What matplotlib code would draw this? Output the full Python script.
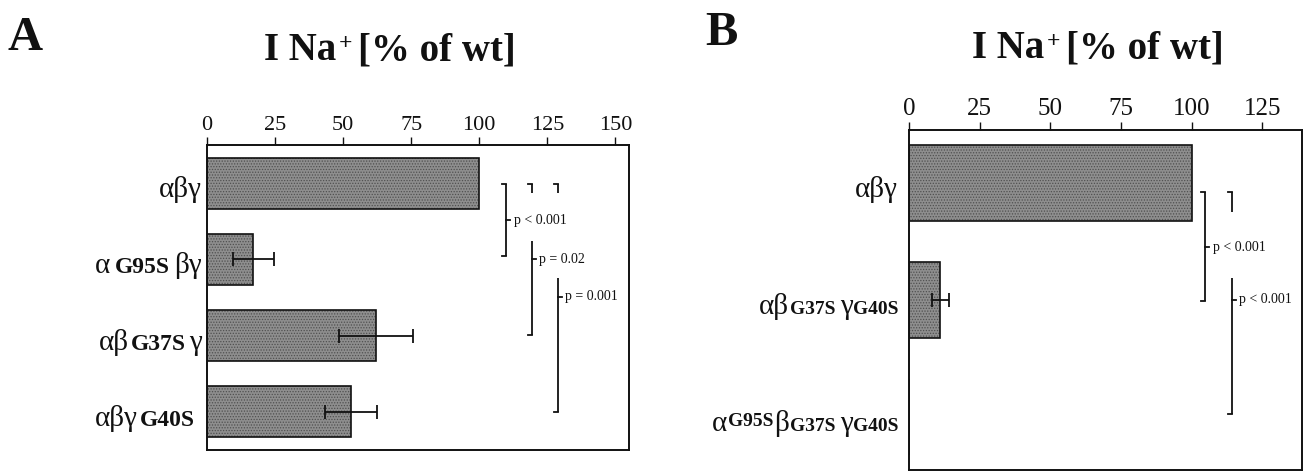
import matplotlib
matplotlib.use('Agg')
import matplotlib.pyplot as plt
from matplotlib.transforms import blended_transform_factory, ScaledTranslation

# ---------------- data ----------------
A_values = [100, 17, 62, 53]
A_errors = [0, 7.5, 13.5, 9.5]
A_ticks = [0, 25, 50, 75, 100, 125, 150]
A_labels = [
    [('αβγ', 'r', 0, 0)],
    [('α', 'r', 0, 4), ('G95S', 'b', 0, 5), ('βγ', 'r', 0, 0)],
    [('αβ', 'r', 0, 2), ('G37S', 'b', 0, 3), ('γ', 'r', 0, 0)],
    [('αβγ', 'r', 0, 2), ('G40S', 'b', 0, 7)],
]
# brackets: x, y0, y1, tick-y (or None), label, top serif, bottom serif
A_brackets = [
    (110.0, 0.01, 0.96, 0.49, 'p < 0.001', True, True),
    (119.4, 0.76, 1.99, 1.00, 'p = 0.02', False, True),
    (128.9, 1.24, 3.00, 1.49, 'p = 0.001', False, True),
    (119.4, 0.01, 0.13, None, '', True, False),
    (128.9, 0.01, 0.13, None, '', True, False),
]

B_values = [100, 11, 0]
B_errors = [0, 3, 0]
B_ticks = [0, 25, 50, 75, 100, 125]
B_labels = [
    [('αβγ', 'r', 0, 0)],
    [('αβ', 'r', 0, 1), ('G37S', 's', 0, 4), ('γ', 'r', 0, 0), ('G40S', 's', 0, 0)],
    [('α', 'r', 0, 1), ('G95S', 's', 5, 1), ('β', 'r', 0, 1), ('G37S', 's', 0, 4),
     ('γ', 'r', 0, 0), ('G40S', 's', 0, 0)],
]
B_brackets = [
    (104.8, 0.08, 1.01, 0.55, 'p < 0.001', True, True),
    (114.3, 0.81, 1.97, 1.00, 'p < 0.001', False, True),
    (114.3, 0.08, 0.25, None, '', True, False),
]

TITLE = [('I Na', 'B', 0, 2), ('+', 'S', 11, 6), ('[% of wt]', 'B', 0, 0)]

# ---------------- style ----------------
W, H, DPI = 1308, 473, 100
SERIF = 'Liberation Serif'
plt.rcParams['font.family'] = [SERIF, 'DejaVu Serif']
plt.rcParams['hatch.linewidth'] = 0.6
BAR = '#8e8e8e'
DOTS = '#505050'
INK = '#111111'
STYLE = {'r': (21, 'normal'), 'b': (17, 'bold'), 's': (14, 'bold'),
         'B': (28, 'bold'), 'S': (17, 'bold')}

fig = plt.figure(figsize=(W / DPI, H / DPI), dpi=DPI)
renderer = fig.canvas.get_renderer()


def draw_pieces(base_tr, x, y, pieces, align, dx_px=0, dy_px=0):
    texts, widths = [], []
    for s, st, rise, gap in pieces:
        size, weight = STYLE[st]
        t = fig.text(x, y, s, transform=base_tr, fontsize=size, fontweight=weight,
                     ha='left', va='baseline', color=INK, family=[SERIF, 'DejaVu Serif'])
        w = t.get_window_extent(renderer).width
        texts.append((t, rise, gap))
        widths.append(w + gap)
    total = sum(widths) - pieces[-1][3]
    if align == 'right':
        start = -sum(widths)
    elif align == 'center':
        start = -total / 2
    else:
        start = 0
    cur = start
    for (t, rise, gap), w in zip(texts, widths):
        t.set_transform(base_tr + ScaledTranslation((cur + dx_px) / DPI,
                                                    (rise + dy_px) / DPI,
                                                    fig.dpi_scale_trans))
        cur += w


def panel(ax, values, errors, ticks, labels, brackets, xmax, ylim, barh, tick_fs,
          label_dx):
    n = len(values)
    ax.barh(range(n), values, height=barh, color=BAR, edgecolor=DOTS, linewidth=0,
            hatch='......', zorder=2)
    ax.barh(range(n), values, height=barh, fill=False, edgecolor=INK, linewidth=1.2,
            zorder=2.5)
    for i in range(n):
        if errors[i] > 0:
            ax.errorbar(values[i], i, xerr=errors[i], fmt='none', ecolor=INK,
                        elinewidth=1.3, capsize=5, capthick=1.3, zorder=3)
    ax.set_xlim(0, xmax)
    ax.set_ylim(*ylim)
    ax.xaxis.tick_top()
    ax.set_xticks(ticks)
    ax.set_xticklabels([str(t) for t in ticks])
    ax.tick_params(axis='x', direction='out', length=6, width=1, labelsize=tick_fs,
                   pad=1, colors=INK)
    ax.set_yticks([])
    for sp in ax.spines.values():
        sp.set_linewidth(1.4)
        sp.set_color(INK)
    # category labels
    tr = blended_transform_factory(ax.transAxes, ax.transData)
    for i, pcs in enumerate(labels):
        draw_pieces(tr, 0, i, pcs, 'right', dx_px=label_dx, dy_px=-14)
    # significance brackets
    bb = ax.get_position()
    px_per_unit = bb.width * W / xmax
    serif = 4 / px_per_unit
    for x, y0, y1, ty, lab, top, bot in brackets:
        ax.plot([x, x], [y0, y1], color=INK, lw=1.3, clip_on=False,
                solid_capstyle='butt')
        if top:
            ax.plot([x - serif, x], [y0, y0], color=INK, lw=1.3, clip_on=False)
        if bot:
            ax.plot([x - serif, x], [y1, y1], color=INK, lw=1.3, clip_on=False)
        if ty is not None:
            ax.plot([x, x + serif], [ty, ty], color=INK, lw=1.3, clip_on=False)
            ax.text(x + serif * 1.8, ty, lab, fontsize=10, ha='left', va='center',
                    color=INK)


axA = fig.add_axes([207 / W, 1 - 450 / H, 422 / W, 305 / H])
panel(axA, A_values, A_errors, A_ticks, A_labels, A_brackets, 155, (3.5, -0.5),
      0.67, 16, -5)

axB = fig.add_axes([909 / W, 1 - 470 / H, 393 / W, 340 / H])
panel(axB, B_values, B_errors, B_ticks, B_labels, B_brackets, 139, (2.45, -0.45),
      0.65, 18, -11)

# panel letters and titles
ftr = fig.transFigure
fig.text(8 / W, 1 - 50 / H, 'A', fontsize=35, fontweight='bold', color=INK,
         ha='left', va='baseline')
fig.text(705 / W, 1 - 45 / H, 'B', fontsize=35, fontweight='bold', color=INK,
         ha='left', va='baseline')
draw_pieces(ftr, 390 / W, 1 - 60 / H, TITLE, 'center')
draw_pieces(ftr, 1098 / W, 1 - 58 / H, TITLE, 'center')

fig.savefig('out.png', dpi=DPI)
